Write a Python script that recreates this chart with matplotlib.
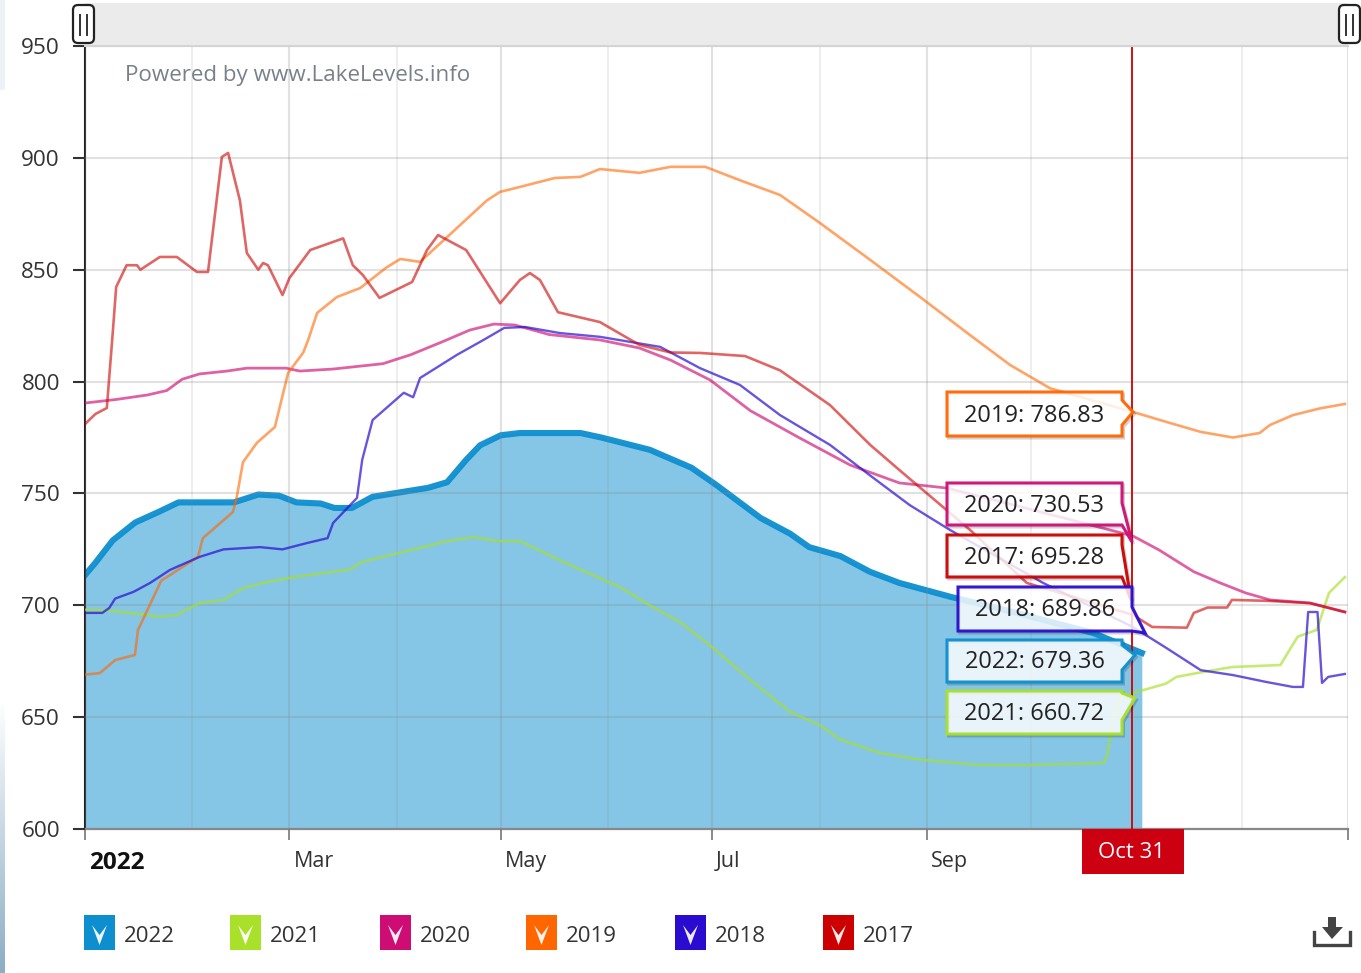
import numpy as np
import matplotlib
matplotlib.use('Agg')
import matplotlib.pyplot as plt
from matplotlib.patches import Polygon, Rectangle, FancyBboxPatch
from matplotlib.transforms import ScaledTranslation

plt.rcParams['font.family'] = ['Open Sans', 'DejaVu Sans']

days_2022 = [0, 3, 8, 14.5, 21.6, 27, 43, 50, 56, 61, 68, 72, 77, 83, 91, 99, 104.5, 110, 114, 120, 125.5,
             143, 149, 163, 175, 182, 195, 203.5, 209, 218, 226.5, 235, 250, 264, 291, 305]
vals_2022 = [713.5, 719, 729, 737, 742, 746, 746, 749.5, 749, 746, 745.5, 743.5, 743.5, 748.5, 750.5, 752.5, 755,
             765, 771.5, 776, 777, 777, 775, 769.5, 761.5, 754, 739, 732, 726, 722, 715, 710, 703.7, 698.5, 687.6, 678.7]

days_2021 = [0, 8, 21.6, 26.5, 33, 40, 45.6, 52.5, 62, 76.5, 80, 94, 104.5, 112, 119, 125.5, 140, 154.6, 163, 171.7,
             180.4, 192, 203.5, 212, 218, 229.4, 241, 258, 272.7, 294, 295, 296.7, 298.7, 302.5, 312, 315, 322, 331,
             345, 348, 350, 355.5, 359, 363.6]
vals_2021 = [698, 697.5, 695, 695.7, 701, 702.4, 707.7, 710.4, 713, 716, 719.4, 724.7, 728.7, 730.5, 728.7, 728.7,
             718, 708, 700, 692.5, 682, 666.6, 652.3, 646.5, 640, 634, 631, 628.6, 628.6, 629.5, 633, 648.7, 657.7,
             660.8, 665, 668, 670, 672.4, 673.3, 681, 686, 689, 705.5, 712.6]

days_2020 = [0, 9, 18, 23.6, 28, 33, 41, 46.7, 58, 62, 71.6, 86, 94, 103, 111, 118, 124, 134, 148.6, 160, 169, 180.4,
             192, 206, 220.8, 235, 248.8, 273.6, 302.4, 310, 320, 327.6, 335, 342, 353.5, 363.6]
vals_2020 = [790.4, 792, 794, 796, 801, 803.4, 804.7, 806, 806, 804.7, 805.6, 808, 812, 817.7, 823, 825.7, 825.3, 821,
             818.6, 815, 809.6, 800.7, 787, 775, 762.7, 754.7, 752.4, 742.6, 731, 724.7, 715, 710, 705.5, 702.4, 701, 697]

days_2019 = [0, 4.3, 8.7, 14.4, 15.3, 22, 32.6, 34, 42.7, 43.8, 45.6, 49.6, 54.8, 58.6, 63, 64.4, 67, 72.7, 79.4, 87,
             91, 96.7, 104.5, 116, 119.8, 125.5, 135.6, 143, 148.6, 160, 169, 179, 189, 200.6, 212, 226.6, 241, 255.4,
             267, 278.5, 302.5, 312, 322, 331.3, 339, 342, 348.6, 356.4, 363.6]
vals_2019 = [669, 669.7, 675.5, 677.8, 689, 711, 721.6, 730, 741.7, 748.4, 764, 772.6, 779.7, 803.8, 813, 818.6, 830.7,
             837.8, 841.8, 851, 854.8, 853.5, 864.6, 881, 884.8, 887, 891, 891.5, 895, 893.3, 896, 896, 890, 883.4, 871,
             854.4, 837.8, 820.8, 807.4, 797, 786.4, 782, 777.5, 775, 777, 780.6, 785, 788, 790]

days_2018 = [0, 5, 7, 8.7, 14, 18.8, 24.5, 33, 40, 50.5, 57, 64, 70, 71.6, 78.5, 80, 83, 92, 94.7, 96.7, 107.4, 115,
             121, 127, 137, 148.6, 166, 177.5, 189, 200.6, 215, 226.6, 238, 249.6, 276.5, 302.4, 312, 322, 331.3, 341,
             348.6, 351.5, 353, 355.7, 357, 358.8, 363.6]
vals_2018 = [696.6, 696.6, 698.8, 703, 706, 710, 715.8, 721.6, 725, 726, 725, 727.8, 730, 736.8, 748, 765, 782.8, 795,
             793, 801.6, 812, 818.6, 824, 824.4, 821.7, 820, 815.5, 806, 798.5, 785, 771.7, 758, 744.8, 733.7, 710, 690.3,
             681, 671, 668.8, 665.7, 663.5, 663.5, 697, 697, 665.3, 668, 669.3]

days_2017 = [0, 3, 6.3, 8, 9, 12, 15, 16, 21.6, 26.5, 32.3, 35.5, 39.5, 41.3, 44.7, 46.7, 50, 51.4, 52.8, 57, 59, 65,
             74.5, 77.3, 80.2, 85, 94.4, 98.7, 101.9, 110, 119.8, 125.5, 128.4, 131.3, 136.5, 148.6, 160, 169, 177.5,
             190.5, 200.6, 215, 226.6, 235, 255.4, 271.8, 302.4, 308, 318, 320, 324, 329.6, 331, 341, 353.5, 363.6]
vals_2017 = [781, 785.5, 788.2, 821.7, 842.3, 852, 852, 850, 855.7, 855.7, 849, 849, 900.4, 902.2, 881, 857.5, 850, 853,
             852, 838.7, 846.3, 858.8, 864, 852, 847.6, 837.4, 844.5, 858.8, 865.5, 858.8, 835, 845.4, 848.5, 845.4, 831,
             826.6, 816.4, 813, 812.8, 811.4, 805, 789.5, 771.7, 760.5, 733.7, 710, 695.7, 690.3, 690, 696.6, 699, 699,
             702.4, 702, 701, 697]

years = ['2022', '2021', '2020', '2019', '2018', '2017']
colors = ['#0D8ECF', '#A8E02A', '#CD0D74', '#FF6600', '#2A0CD0', '#CC0000']
y_ticks = [600, 650, 700, 750, 800, 850, 900, 950]
major_days = [0, 59, 120, 181, 243, 364.5]
major_labels = ['2022', 'Mar', 'May', 'Jul', 'Sep', '']
minor_days = [31, 90, 151, 212, 273, 334]
cursor_day = 302.3
cursor_label = 'Oct 31'
balloon_labels = ['2019: 786.83', '2020: 730.53', '2017: 695.28', '2018: 689.86', '2022: 679.36', '2021: 660.72']

W, H = 1361, 973
fig = plt.figure(figsize=(W / 100, H / 100), dpi=100)
ax = fig.add_axes([85 / W, (H - 829) / H, 1263 / W, 783 / H])
ax.set_xlim(0, 364.5)
ax.set_ylim(600, 950)

ax.fill_between(days_2022, 600, vals_2022, color=colors[0], alpha=0.5, lw=0, zorder=2)
ax.plot(days_2022, vals_2022, color=colors[0], lw=4.4, alpha=0.95, zorder=2.5)
ax.plot(days_2021, vals_2021, color=colors[1], lw=1.9, alpha=0.65, zorder=3)
ax.plot(days_2020, vals_2020, color=colors[2], lw=2.0, alpha=0.65, zorder=3)
ax.plot(days_2019, vals_2019, color=colors[3], lw=1.9, alpha=0.6, zorder=3)
ax.plot(days_2018, vals_2018, color=colors[4], lw=1.7, alpha=0.7, zorder=3)
ax.plot(days_2017, vals_2017, color=colors[5], lw=1.9, alpha=0.6, zorder=3)
ax.axvline(cursor_day, color='#CC0000', lw=1.3, zorder=4)

ax.set_yticks(y_ticks)
ax.tick_params(axis='y', length=9, width=1.5, color='#333333', labelsize=16.2, labelcolor='#333333', pad=9)
ax.set_xticks(major_days)
ax.set_xticklabels(major_labels)
ax.set_xticks(minor_days, minor=True)
ax.tick_params(axis='x', which='major', length=8, width=1.2, color='#777777', labelsize=15.5,
               labelcolor='#333333', pad=8)
ax.tick_params(axis='x', which='minor', length=0)
shift = ScaledTranslation(4 / 100, 0, fig.dpi_scale_trans)
for lab in ax.get_xticklabels():
    lab.set_ha('left')
    lab.set_transform(lab.get_transform() + shift)
ax.get_xticklabels()[0].set_fontweight('bold')
ax.get_xticklabels()[0].set_fontsize(17.5)
ax.get_xticklabels()[0].set_color('#111111')

ax.grid(True, which='major', color='#888888', alpha=0.25, lw=1.5, zorder=1)
ax.grid(True, which='minor', axis='x', color='#888888', alpha=0.17, lw=1.2, zorder=1)
ax.set_axisbelow(False)
for line in ax.get_xgridlines() + ax.get_ygridlines():
    line.set_zorder(2.2)
for s in ['top', 'right']:
    ax.spines[s].set_visible(False)
ax.spines['left'].set_color('#222222')
ax.spines['left'].set_linewidth(1.5)
ax.spines['bottom'].set_color('#888888')
ax.spines['bottom'].set_linewidth(1.6)

# page furniture, in pixel coordinates
over = fig.add_axes([0, 0, 1, 1], zorder=10)
over.set_xlim(0, W)
over.set_ylim(H, 0)
over.axis('off')
over.patch.set_alpha(0)

over.text(125, 75, 'Powered by www.LakeLevels.info', fontsize=16.1, color='#7A808A', va='center', ha='left')

# scrollbar
over.add_patch(Rectangle((85, 3), 1263, 43, fc='#EBEBEB', ec='none'))
over.plot([85, 1348], [46, 46], color='#D4D4D4', lw=1.5)
for hx in [73, 1339]:
    over.add_patch(FancyBboxPatch((hx, 5), 21, 38, boxstyle='round,pad=0,rounding_size=5', mutation_aspect=1,
                                  fc='white', ec='#222222', lw=1.6))
    over.plot([hx + 7, hx + 7], [15, 35], color='#333333', lw=1.4)
    over.plot([hx + 14, hx + 14], [15, 35], color='#333333', lw=1.4)

# value balloons: box left, top, right, bottom, pointer top, pointer tip, pointer bottom
balloons = [
    (947, 392, 1122, 436, 400, (1133, 412), 425, colors[3]),
    (947, 483, 1122, 525, 503, (1132, 542), 525, colors[2]),
    (947, 535, 1122, 577, 545, (1131, 600), 577, colors[5]),
    (958, 587, 1132, 631, 607, (1145, 633), 631, colors[4]),
    (947, 640, 1122, 682, 645, (1135, 655), 670, colors[0]),
    (947, 691, 1122, 734, 693, (1135, 698), 720, colors[1]),
]
for b, text in zip(balloons, balloon_labels):
    l, t, r, bt, p1, tip, p2, c = b
    pts = [(l, t), (r, t), (r, p1), tip, (r, p2), (r, bt), (l, bt)]
    shadow = Polygon([(x + 1.5, y + 2) for x, y in pts], closed=True, fc='none', ec='#000000', alpha=0.18, lw=2.2)
    over.add_patch(shadow)
    over.add_patch(Polygon(pts, closed=True, fc='white', alpha=0.82, ec='none'))
    over.add_patch(Polygon(pts, closed=True, fc='none', ec=c, lw=2.2, alpha=0.95, joinstyle='miter'))
    over.text((l + r) / 2, (t + bt) / 2 + 1.5, text, fontsize=17, color='#222222', ha='center', va='center')

# cursor date
over.add_patch(Rectangle((1082, 829), 102, 45, fc='#CC0011', ec='none'))
over.text(1132, 853, cursor_label, fontsize=16, color='white', ha='center', va='center')

# legend
box_x = [84, 230, 380, 526, 675, 823]
for bx, year, c in zip(box_x, years, colors):
    over.add_patch(Rectangle((bx, 915), 31, 35, fc=c, ec='none'))
    over.add_patch(Polygon([(bx + 8, 925), (bx + 15.5, 945), (bx + 23, 925), (bx + 15.5, 935)],
                           closed=True, fc='white', ec='none', alpha=0.92))
    over.text(bx + 40, 936, year, fontsize=16, color='#333333', ha='left', va='center')

# download icon
over.plot([1314.5, 1314.5, 1350.5, 1350.5], [932, 945, 945, 932], color='#444444', lw=2.4, solid_joinstyle='miter')
over.add_patch(Rectangle((1328, 917), 8, 12, fc='#444444', ec='none'))
over.add_patch(Polygon([(1322, 927), (1343, 927), (1332, 939)], closed=True, fc='#444444', ec='none'))

# browser edge
edge = fig.add_axes([0, 0, 5 / W, 1], zorder=11)
edge.axis('off')
shade = np.ones((H, 1, 3))
shade[:90, 0] = [0.93, 0.95, 0.97]
ramp = np.linspace(0, 1, 273)[:, None]
shade[700:, 0] = np.array([1, 1, 1]) * (1 - ramp) + np.array([0.55, 0.68, 0.77]) * ramp
edge.imshow(shade, aspect='auto')

fig.savefig('out.png', dpi=100)
